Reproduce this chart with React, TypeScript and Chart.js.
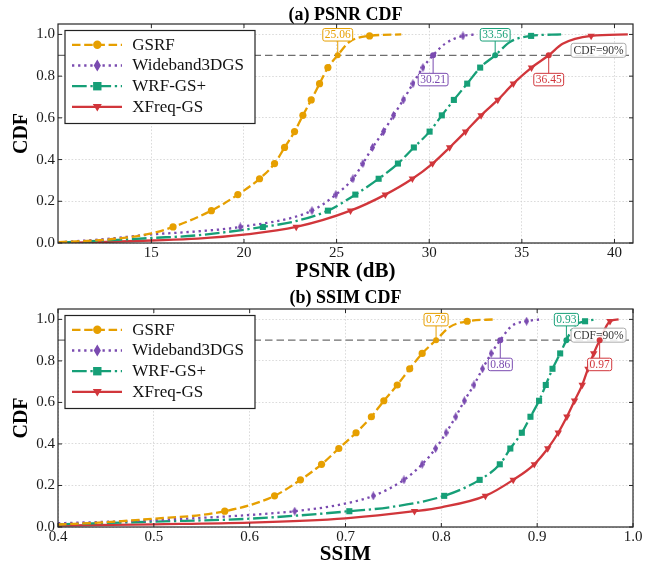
import { useEffect, useRef } from 'react';
import { Chart, registerables } from 'chart.js';

Chart.register(...registerables);

const FONT = "'Liberation Serif', 'Times New Roman', serif";

// ---------- data ----------
const seriesNames = ['GSRF', 'Wideband3DGS', 'WRF-GS+', 'XFreq-GS'];
const psnrTicks = [15, 20, 25, 30, 35, 40];
const ssimTicks = [0.4, 0.5, 0.6, 0.7, 0.8, 0.9, 1.0];
const cdfTicks = [0, 0.2, 0.4, 0.6, 0.8, 1.0];

// CDF = 90% crossing values
const psnrP90 = [25.06, 30.21, 33.56, 36.45];
const ssimP90 = [0.7945, 0.8615, 0.9305, 0.9652];

// CDF levels at which the markers sit
const psnrMarkLevels = [0.077, 0.155, 0.232, 0.308, 0.381, 0.458, 0.534, 0.612, 0.686, 0.764, 0.841, 0.993];
const ssimMarkLevels = [0.076, 0.150, 0.227, 0.302, 0.378, 0.454, 0.531, 0.608, 0.684, 0.762, 0.836, 0.991];

// PSNR marker x values
const psnrGsrfMarks = [16.17, 18.24, 19.67, 20.84, 21.65, 22.19, 22.73, 23.18, 23.63, 24.08, 24.53, 26.78];
const psnrWideMarks = [19.8, 23.67, 24.96, 25.88, 26.42, 26.94, 27.53, 28.07, 28.6, 29.12, 29.66, 31.82];
const psnrWrfMarks = [21.02, 24.53, 26.01, 27.27, 28.31, 29.17, 30.02, 30.68, 31.33, 32.05, 32.75, 35.5];
const psnrXfreqMarks = [22.82, 25.75, 27.63, 29.09, 30.18, 31.1, 31.96, 32.8, 33.7, 34.54, 35.52, 38.74];

// PSNR other curve points
const psnrGsrfCurveX = [10, 12.8, 15, 25.7, 28.49];
const psnrGsrfCurveY = [0.004, 0.018, 0.046, 0.965, 1.0];
const psnrWideCurveX = [10, 12.5, 15, 17.5, 30.85, 32.54];
const psnrWideCurveY = [0.003, 0.019, 0.041, 0.056, 0.955, 1.0];
const psnrWrfCurveX = [10, 12.5, 15, 17.5, 22.8, 34.4, 37.12];
const psnrWrfCurveY = [0.002, 0.012, 0.024, 0.037, 0.105, 0.966, 1.0];
const psnrXfreqCurveX = [10, 12.5, 15, 17.5, 20, 37.2, 40.72];
const psnrXfreqCurveY = [0.001, 0.005, 0.012, 0.021, 0.04, 0.955, 1.0];

// SSIM marker x values
const ssimGsrfMarks = [0.574, 0.626, 0.653, 0.675, 0.693, 0.711, 0.727, 0.74, 0.754, 0.767, 0.78, 0.827];
const ssimWideMarks = [0.647, 0.729, 0.761, 0.78, 0.794, 0.805, 0.815, 0.824, 0.834, 0.843, 0.852, 0.889];
const ssimWrfMarks = [0.704, 0.803, 0.84, 0.861, 0.872, 0.884, 0.893, 0.902, 0.909, 0.916, 0.924, 0.95];
const ssimXfreqMarks = [0.772, 0.846, 0.875, 0.897, 0.911, 0.922, 0.931, 0.939, 0.947, 0.953, 0.959, 0.976];

// SSIM other curve points
const ssimGsrfCurveX = [0.4, 0.45, 0.5, 0.55, 0.6, 0.809, 0.856];
const ssimGsrfCurveY = [0.012, 0.023, 0.04, 0.058, 0.105, 0.964, 1.0];
const ssimWideCurveX = [0.4, 0.5, 0.6, 0.69, 0.874, 0.903];
const ssimWideCurveY = [0.018, 0.033, 0.058, 0.104, 0.97, 1.0];
const ssimWrfCurveX = [0.4, 0.5, 0.6, 0.75, 0.939, 0.962];
const ssimWrfCurveY = [0.013, 0.026, 0.04, 0.098, 0.97, 1.0];
const ssimXfreqCurveX = [0.4, 0.5, 0.6, 0.7, 0.8, 0.985];
const ssimXfreqCurveY = [0.007, 0.013, 0.021, 0.042, 0.095, 1.0];

// ---------- styles ----------
const COLORS = ['#E69F00', '#7a4bb0', '#169f77', '#d1363b'];
const LW = 2.3;
const DASHES = [[8.5, 3.7], [2.3, 3.8], [14.7, 3.7, 2.3, 3.7], []];

function makeDiamond(color: string, w: number, h: number) {
  const c = document.createElement('canvas');
  c.width = w;
  c.height = h;
  const g = c.getContext('2d')!;
  g.fillStyle = color;
  g.beginPath();
  g.moveTo(w / 2, 0);
  g.lineTo(w, h / 2);
  g.lineTo(w / 2, h);
  g.lineTo(0, h / 2);
  g.closePath();
  g.fill();
  return c;
}

function buildPoints(marks: number[], levels: number[], cx: number[], cy: number[], p90: number) {
  const pts: any[] = marks.map((x, i) => ({ x, y: levels[i], m: true }));
  cx.forEach((x, i) => pts.push({ x, y: cy[i], m: false }));
  pts.push({ x: p90, y: 0.9, m: false });
  pts.sort((a, b) => a.x - b.x);
  return pts;
}

function drawMarker(ctx: CanvasRenderingContext2D, i: number, x: number, y: number, s: number) {
  ctx.fillStyle = COLORS[i];
  ctx.beginPath();
  if (i === 0) {
    ctx.arc(x, y, 4.2 * s, 0, Math.PI * 2);
  } else if (i === 1) {
    ctx.moveTo(x, y - 6 * s);
    ctx.lineTo(x + 3.6 * s, y);
    ctx.lineTo(x, y + 6 * s);
    ctx.lineTo(x - 3.6 * s, y);
    ctx.closePath();
  } else if (i === 2) {
    ctx.rect(x - 4.2 * s, y - 4.2 * s, 8.4 * s, 8.4 * s);
  } else {
    ctx.moveTo(x - 4.5 * s, y - 3 * s);
    ctx.lineTo(x + 4.5 * s, y - 3 * s);
    ctx.lineTo(x, y + 4.5 * s);
    ctx.closePath();
  }
  ctx.fill();
}

function roundRect(ctx: CanvasRenderingContext2D, x: number, y: number, w: number, h: number, r: number) {
  ctx.beginPath();
  ctx.moveTo(x + r, y);
  ctx.lineTo(x + w - r, y);
  ctx.arcTo(x + w, y, x + w, y + r, r);
  ctx.lineTo(x + w, y + h - r);
  ctx.arcTo(x + w, y + h, x + w - r, y + h, r);
  ctx.lineTo(x + r, y + h);
  ctx.arcTo(x, y + h, x, y + h - r, r);
  ctx.lineTo(x, y + r);
  ctx.arcTo(x, y, x + r, y, r);
  ctx.closePath();
}

interface PanelCfg {
  title: string;
  xTitle: string;
  xMin: number;
  xMax: number;
  xTicks: number[];
  xFmt: (v: number) => string;
  p90: number[];
  series: any[][];
  padTop: number;
  xAxisH: number;
  titleBase: number;
}

function decorPlugin(cfg: PanelCfg) {
  return {
    id: 'decor',
    beforeDatasetsDraw(chart: any) {
      const { ctx, chartArea: a, scales } = chart;
      const yy = scales.y.getPixelForValue(0.9);
      ctx.save();
      ctx.beginPath();
      ctx.rect(a.left, a.top, a.right - a.left, a.bottom - a.top);
      ctx.clip();
      ctx.strokeStyle = '#6e6e6e';
      ctx.lineWidth = 1.3;
      ctx.setLineDash([7.5, 4]);
      ctx.beginPath();
      ctx.moveTo(a.left, yy);
      ctx.lineTo(a.right, yy);
      ctx.stroke();
      ctx.restore();
    },
    afterDatasetsDraw(chart: any) {
      const { ctx, chartArea: a, scales } = chart;
      const xs = scales.x;
      const ys = scales.y;
      const py = ys.getPixelForValue(0.9);
      ctx.save();

      // CDF=90% label
      ctx.font = `11.5px ${FONT}`;
      const cdfTxt = 'CDF=90%';
      const cw = ctx.measureText(cdfTxt).width + 5;
      const ch = 14;
      const cxr = a.right - 7;
      const ccy = py - 5;
      ctx.setLineDash([]);
      roundRect(ctx, cxr - cw, ccy - ch / 2, cw, ch, 2.5);
      ctx.fillStyle = 'rgba(255,255,255,0.85)';
      ctx.fill();
      ctx.strokeStyle = '#aaaaaa';
      ctx.lineWidth = 1;
      ctx.stroke();
      ctx.fillStyle = '#333333';
      ctx.textAlign = 'center';
      ctx.textBaseline = 'middle';
      ctx.fillText(cdfTxt, cxr - cw / 2, ccy + 0.5);

      // value annotations
      cfg.p90.forEach((v, i) => {
        const px = xs.getPixelForValue(v);
        const above = i % 2 === 0;
        const label = v.toFixed(2);
        ctx.font = `11.5px ${FONT}`;
        const bw = ctx.measureText(label).width + 4;
        const bh = 12.5;
        const cy = above ? py - 20.5 : py + 24.3;
        ctx.strokeStyle = COLORS[i];
        ctx.lineWidth = 1;
        ctx.beginPath();
        ctx.moveTo(px, py);
        ctx.lineTo(px, above ? cy + bh / 2 : cy - bh / 2);
        ctx.stroke();
        roundRect(ctx, px - bw / 2, cy - bh / 2, bw, bh, 2);
        ctx.fillStyle = 'rgba(255,255,255,0.9)';
        ctx.fill();
        ctx.stroke();
        ctx.fillStyle = COLORS[i];
        ctx.textAlign = 'center';
        ctx.textBaseline = 'middle';
        ctx.fillText(label, px, cy + 0.5);
        ctx.beginPath();
        ctx.arc(px, py, 3, 0, Math.PI * 2);
        ctx.fill();
      });

      // frame
      ctx.strokeStyle = '#262626';
      ctx.lineWidth = 1.2;
      ctx.strokeRect(a.left, a.top, a.right - a.left, a.bottom - a.top);
      // inward ticks on all sides
      ctx.lineWidth = 1;
      ctx.beginPath();
      cfg.xTicks.forEach((t) => {
        const p = xs.getPixelForValue(t);
        ctx.moveTo(p, a.bottom);
        ctx.lineTo(p, a.bottom - 4);
        ctx.moveTo(p, a.top);
        ctx.lineTo(p, a.top + 4);
      });
      cdfTicks.forEach((t) => {
        const p = ys.getPixelForValue(t);
        ctx.moveTo(a.left, p);
        ctx.lineTo(a.left + 4, p);
        ctx.moveTo(a.right, p);
        ctx.lineTo(a.right - 4, p);
      });
      ctx.stroke();

      // legend
      const lx = a.left + 7;
      const ly = a.top + 6.5;
      const lw = 190;
      const lh = 93;
      ctx.fillStyle = '#ffffff';
      ctx.fillRect(lx, ly, lw, lh);
      ctx.strokeStyle = '#222222';
      ctx.lineWidth = 1.2;
      ctx.strokeRect(lx, ly, lw, lh);
      seriesNames.forEach((name, i) => {
        const cy = ly + 14.3 + i * 20.7;
        ctx.strokeStyle = COLORS[i];
        ctx.lineWidth = LW;
        ctx.setLineDash(DASHES[i]);
        ctx.beginPath();
        ctx.moveTo(lx + 7, cy);
        ctx.lineTo(lx + 57, cy);
        ctx.stroke();
        ctx.setLineDash([]);
        drawMarker(ctx, i, lx + 32.3, cy, 1);
        ctx.fillStyle = '#111111';
        ctx.font = `17px ${FONT}`;
        ctx.textAlign = 'left';
        ctx.textBaseline = 'middle';
        ctx.fillText(name, lx + 67.3, cy + 0.5);
      });

      // panel title
      ctx.fillStyle = '#000000';
      ctx.font = `bold 18px ${FONT}`;
      ctx.textAlign = 'center';
      ctx.textBaseline = 'alphabetic';
      ctx.fillText(cfg.title, (a.left + a.right) / 2, cfg.titleBase);
      ctx.restore();
    },
  };
}

function makeChart(canvas: HTMLCanvasElement, cfg: PanelCfg) {
  const styles: any[] = ['circle', makeDiamond(COLORS[1], 5, 9), 'rect', 'triangle'];
  const radii = [3.6, 5, 4.3, 4.3];
  const datasets = cfg.series.map((pts, i) => ({
    label: seriesNames[i],
    data: pts,
    borderColor: COLORS[i],
    backgroundColor: COLORS[i],
    borderWidth: LW,
    borderDash: DASHES[i],
    fill: false,
    cubicInterpolationMode: 'monotone',
    pointStyle: styles[i],
    pointRotation: i === 3 ? 180 : 0,
    pointRadius: (c: any) => (c.raw && c.raw.m ? radii[i] : 0),
    pointBackgroundColor: COLORS[i],
    pointBorderWidth: 0,
  }));
  const tickFont = { family: FONT, size: 15 };
  return new Chart(canvas, {
    type: 'line',
    data: { datasets } as any,
    plugins: [decorPlugin(cfg) as any],
    options: {
      animation: false,
      responsive: false,
      events: [],
      layout: { padding: { top: cfg.padTop, right: 24, left: 0, bottom: 0 } },
      plugins: { legend: { display: false }, title: { display: false }, tooltip: { enabled: false } },
      scales: {
        x: {
          type: 'linear',
          min: cfg.xMin,
          max: cfg.xMax,
          afterBuildTicks: (s: any) => {
            s.ticks = cfg.xTicks.map((v) => ({ value: v }));
          },
          afterFit: (s: any) => {
            s.height = cfg.xAxisH;
          },
          ticks: {
            font: tickFont,
            color: '#1a1a1a',
            padding: 1,
            maxRotation: 0,
            autoSkip: false,
            callback: (v: any) => cfg.xFmt(Number(v)),
          },
          grid: { color: '#d2d2d2', lineWidth: 0.8, drawTicks: false },
          border: { display: false, dash: [1.6, 1.8] },
          title: {
            display: true,
            text: cfg.xTitle,
            color: '#000',
            font: { family: FONT, size: 21, weight: 'bold' },
            padding: { top: 0, bottom: 0 },
          },
        },
        y: {
          type: 'linear',
          min: 0,
          max: 1.05,
          afterBuildTicks: (s: any) => {
            s.ticks = cdfTicks.map((v) => ({ value: v }));
          },
          afterFit: (s: any) => {
            s.width = 58;
          },
          ticks: {
            font: tickFont,
            color: '#1a1a1a',
            padding: 3,
            autoSkip: false,
            callback: (v: any) => Number(v).toFixed(1),
          },
          grid: { color: '#d2d2d2', lineWidth: 0.8, drawTicks: false },
          border: { display: false, dash: [1.6, 1.8] },
          title: {
            display: true,
            text: 'CDF',
            color: '#000',
            font: { family: FONT, size: 20, weight: 'bold' },
            padding: { top: 10, bottom: 0 },
          },
        },
      },
    } as any,
  });
}

const psnrCfg: PanelCfg = {
  title: '(a) PSNR CDF',
  xTitle: 'PSNR (dB)',
  xMin: 9.96,
  xMax: 41,
  xTicks: psnrTicks,
  xFmt: (v) => String(Math.round(v)),
  p90: psnrP90,
  series: [
    buildPoints(psnrGsrfMarks, psnrMarkLevels, psnrGsrfCurveX, psnrGsrfCurveY, psnrP90[0]),
    buildPoints(psnrWideMarks, psnrMarkLevels, psnrWideCurveX, psnrWideCurveY, psnrP90[1]),
    buildPoints(psnrWrfMarks, psnrMarkLevels, psnrWrfCurveX, psnrWrfCurveY, psnrP90[2]),
    buildPoints(psnrXfreqMarks, psnrMarkLevels, psnrXfreqCurveX, psnrXfreqCurveY, psnrP90[3]),
  ],
  padTop: 24,
  xAxisH: 41,
  titleBase: 20,
};

const ssimCfg: PanelCfg = {
  title: '(b) SSIM CDF',
  xTitle: 'SSIM',
  xMin: 0.4,
  xMax: 1.0,
  xTicks: ssimTicks,
  xFmt: (v) => v.toFixed(1),
  p90: ssimP90,
  series: [
    buildPoints(ssimGsrfMarks, ssimMarkLevels, ssimGsrfCurveX, ssimGsrfCurveY, ssimP90[0]),
    buildPoints(ssimWideMarks, ssimMarkLevels, ssimWideCurveX, ssimWideCurveY, ssimP90[1]),
    buildPoints(ssimWrfMarks, ssimMarkLevels, ssimWrfCurveX, ssimWrfCurveY, ssimP90[2]),
    buildPoints(ssimXfreqMarks, ssimMarkLevels, ssimXfreqCurveX, ssimXfreqCurveY, ssimP90[3]),
  ],
  padTop: 26,
  xAxisH: 40,
  titleBase: 19.7,
};

function Panel({ cfg, top }: { cfg: PanelCfg; top: number }) {
  const ref = useRef<HTMLCanvasElement>(null);
  useEffect(() => {
    const chart = makeChart(ref.current!, cfg);
    return () => chart.destroy();
  }, [cfg]);
  return (
    <canvas
      ref={ref}
      width={657}
      height={284}
      style={{ position: 'absolute', left: 0, top, width: 657, height: 284 }}
    />
  );
}

export default function App() {
  return (
    <div style={{ position: 'fixed', left: 0, top: 0, width: 657, height: 567, background: '#fff' }}>
      <Panel cfg={psnrCfg} top={0} />
      <Panel cfg={ssimCfg} top={283} />
    </div>
  );
}
